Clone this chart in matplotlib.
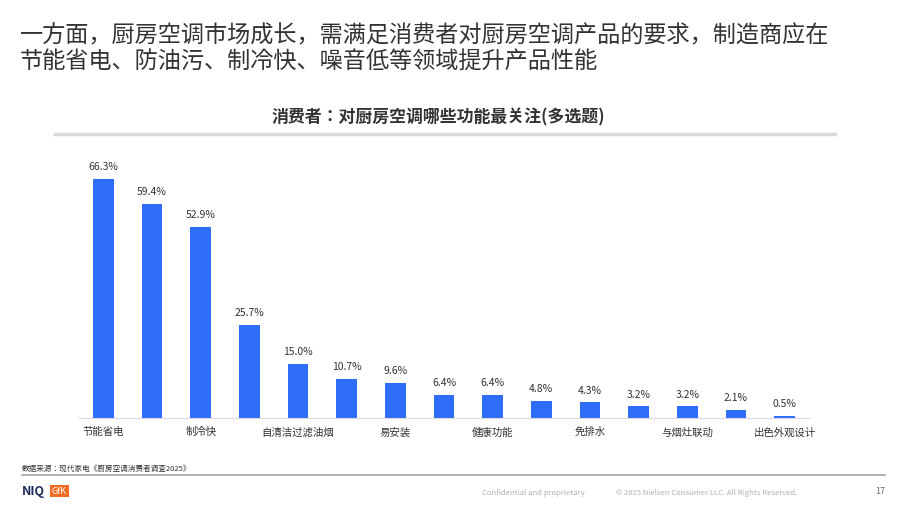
import matplotlib
matplotlib.use("Agg")
import matplotlib.pyplot as plt
from matplotlib.lines import Line2D
from matplotlib import font_manager as fm

cands = [f.name for f in fm.fontManager.ttflist if "CJK" in f.name]
fam = "Noto Sans CJK SC" if "Noto Sans CJK SC" in cands else (cands[0] if cands else "DejaVu Sans")
plt.rcParams["font.family"] = "sans-serif"
plt.rcParams["font.sans-serif"] = [fam, "DejaVu Sans"]

categories = ["节能省电", "防油污", "制冷快", "噪音低", "自清洁过滤油烟", "智能控制",
              "易安装", "制热功能", "健康功能", "易清洁", "免排水", "外观小巧",
              "与烟灶联动", "价格实惠", "出色外观设计"]
values = [66.3, 59.4, 52.9, 25.7, 15.0, 10.7, 9.6, 6.4, 6.4, 4.8, 4.3, 3.2, 3.2, 2.1, 0.5]

W, H = 907, 510
fig = plt.figure(figsize=(W/100, H/100), dpi=100)

def fx(x): return x / W
def fy(y): return 1 - y / H

fig.text(fx(20), fy(36), "一方面，厨房空调市场成长，需满足消费者对厨房空调产品的要求，制造商应在",
         fontsize=16.7, color="#333333", va="center")
fig.text(fx(20), fy(62), "节能省电、防油污、制冷快、噪音低等领域提升产品性能",
         fontsize=16.7, color="#333333", va="center")
fig.text(fx(438), fy(117), "消费者：对厨房空调哪些功能最关注(多选题)", fontsize=12.2,
         fontweight="bold", color="#333333", ha="center", va="center")
fig.add_artist(Line2D([fx(55), fx(835)], [fy(135), fy(135)], color="#d9d9d9", lw=2.5))

left, right = 79, 809
ax = fig.add_axes([fx(left), fy(419), (right-left)/W, 239/66.3*80/H])
x = range(len(values))
ax.bar(x, values, width=0.42, color="#2f6df6")
ax.set_xlim(-0.5, len(values)-0.5)
ax.set_ylim(0, 80)
for i, v in enumerate(values):
    ax.text(i, v + 2.2, f"{v:.1f}%", ha="center", va="bottom", fontsize=7.5, color="#333333")
ax.set_xticks(list(x))
ax.set_xticklabels([c if i % 2 == 0 else "" for i, c in enumerate(categories)],
                   fontsize=7.5, color="#333333")
ax.tick_params(axis="x", length=0, pad=6)
ax.set_yticks([])
for s in ["top", "right", "left"]:
    ax.spines[s].set_visible(False)
ax.spines["bottom"].set_color("#d9d9d9")

fig.text(fx(22), fy(469), "数据来源：现代家电《厨房空调消费者调查2025》", fontsize=5.5,
         color="#333333", va="center")
fig.add_artist(Line2D([fx(22), fx(885)], [fy(476), fy(476)], color="#a6a6a6", lw=1.2))
fig.text(fx(22), fy(492), "NIQ", fontsize=9, fontweight="bold", color="#1a2a5a", va="center")
fig.text(fx(52), fy(492), "GfK", fontsize=6.5, color="white", va="center",
         bbox=dict(boxstyle="square,pad=0.2", fc="#f26b21", ec="none"))
fig.text(fx(482), fy(493), "Confidential and proprietary", fontsize=5.5, color="#b0b0b0", va="center")
fig.text(fx(616), fy(493), "© 2025 Nielsen Consumer LLC. All Rights Reserved.", fontsize=5.5,
         color="#b0b0b0", va="center")
fig.text(fx(885), fy(492), "17", fontsize=6.5, color="#666666", ha="right", va="center")

fig.savefig("out.png", dpi=100)
